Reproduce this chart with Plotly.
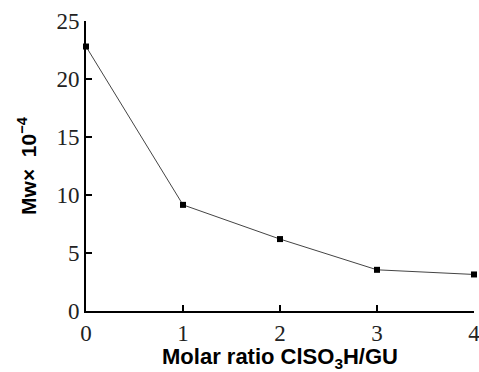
import plotly.graph_objects as go

molar_ratio = [0, 1, 2, 3, 4]
mw = [22.8, 9.15, 6.2, 3.55, 3.15]
x_ticks = [0, 1, 2, 3, 4]
y_ticks = [0, 5, 10, 15, 20, 25]

fig = go.Figure()
fig.add_trace(go.Scatter(
    x=molar_ratio, y=mw, mode="lines+markers",
    line=dict(color="#444444", width=1),
    marker=dict(symbol="square", size=6, color="black"),
    cliponaxis=False, showlegend=False,
))

axis_common = dict(
    showline=True, linecolor="black", linewidth=2,
    ticks="inside", ticklen=6, tickwidth=2, tickcolor="black",
    showgrid=False, zeroline=False, automargin=False,
    ticklabeloverflow="allow",
    tickfont=dict(family="Liberation Serif", size=23, color="#222"),
)

fig.update_layout(
    width=479, height=372,
    margin=dict(l=86, r=5, t=21, b=61),
    plot_bgcolor="white", paper_bgcolor="white",
    xaxis=dict(range=[0, 4], tickvals=x_ticks, **axis_common,
               title=dict(text="<b>Molar ratio ClSO<sub>3</sub>H/GU</b>",
                          font=dict(family="Liberation Sans", size=22, color="black"),
                          standoff=5)),
    yaxis=dict(range=[0, 25], tickvals=y_ticks, **axis_common,
               title=dict(text="<b>Mw×  10<sup>−4</sup></b>",
                          font=dict(family="Liberation Sans", size=21, color="black"),
                          standoff=14)),
)

fig.write_html("out.html")
